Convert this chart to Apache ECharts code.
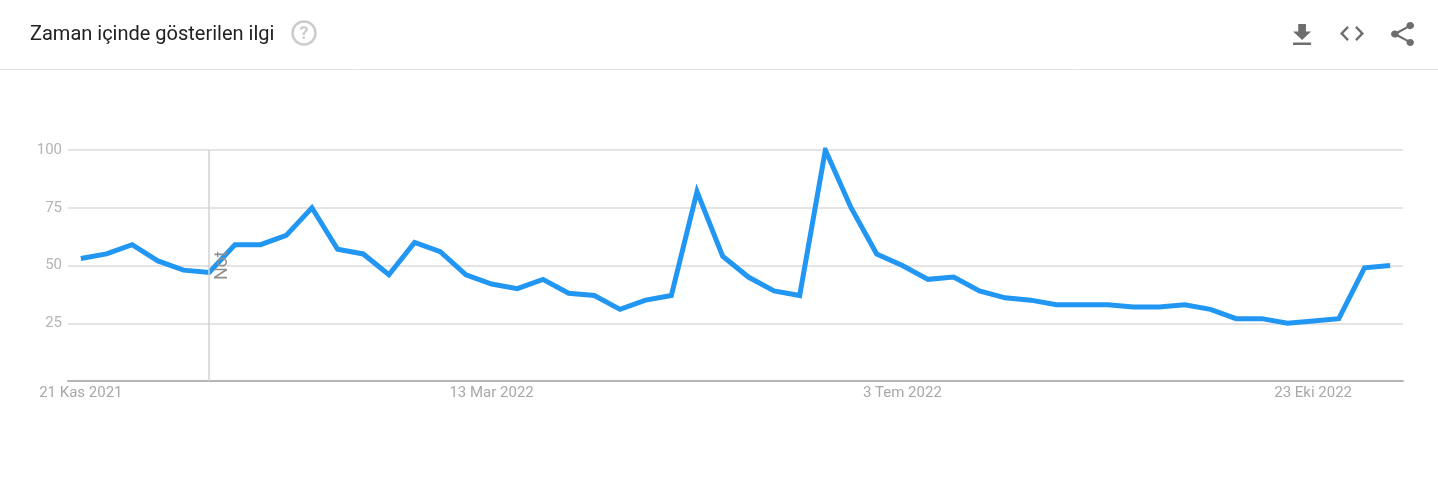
<html>
<head>
    <meta charset='utf-8'>
    <script src='https://cdn.jsdelivr.net/npm/echarts@6/dist/echarts.min.js'></script>
    <style>
        html, body, #main {
            width: 100%;
            height: 100%;
            margin: 0;
            background: #fff;
        }
    </style>
</head>
<body>

<div id='main'></div>
<script>
    var titleText = 'Zaman içinde gösterilen ilgi';
    var noteText = 'Not';
    var noteDate = '26 Ara 2021';
    var dates = [
        '21 Kas 2021', '28 Kas 2021', '5 Ara 2021', '12 Ara 2021', '19 Ara 2021', '26 Ara 2021',
        '2 Oca 2022', '9 Oca 2022', '16 Oca 2022', '23 Oca 2022', '30 Oca 2022', '6 Şub 2022',
        '13 Şub 2022', '20 Şub 2022', '27 Şub 2022', '6 Mar 2022', '13 Mar 2022', '20 Mar 2022',
        '27 Mar 2022', '3 Nis 2022', '10 Nis 2022', '17 Nis 2022', '24 Nis 2022', '1 May 2022',
        '8 May 2022', '15 May 2022', '22 May 2022', '29 May 2022', '5 Haz 2022', '12 Haz 2022',
        '19 Haz 2022', '26 Haz 2022', '3 Tem 2022', '10 Tem 2022', '17 Tem 2022', '24 Tem 2022',
        '31 Tem 2022', '7 Ağu 2022', '14 Ağu 2022', '21 Ağu 2022', '28 Ağu 2022', '4 Eyl 2022',
        '11 Eyl 2022', '18 Eyl 2022', '25 Eyl 2022', '2 Eki 2022', '9 Eki 2022', '16 Eki 2022',
        '23 Eki 2022', '30 Eki 2022', '6 Kas 2022', '13 Kas 2022'
    ];
    var interest = [
        53, 55, 59, 52, 48, 47, 59, 59, 63, 75, 57, 55, 46, 60, 56, 46, 42, 40, 44, 38,
        37, 31, 35, 37, 82, 54, 45, 39, 37, 100, 75, 55, 50, 44, 45, 39, 36, 35, 33, 33,
        33, 32, 32, 33, 31, 27, 27, 25, 26, 27, 49, 50
    ];

    // material icons, drawn in a 24x24 box
    var iconDownload = 'M19 9h-4V3H9v6H5l7 7 7-7zM5 18v2h14v-2H5z';
    var iconEmbed = 'M9.4 16.6L4.8 12l4.6-4.6L8 6l-6 6 6 6 1.4-1.4zm5.2 0l4.6-4.6-4.6-4.6L16 6l6 6-6 6-1.4-1.4z';
    var iconShare = 'M18 16.08c-.76 0-1.44.3-1.96.77L8.91 12.7c.05-.23.09-.46.09-.7s-.04-.47-.09-.7l7.05-4.11c.54.5 1.25.81 2.04.81 1.66 0 3-1.34 3-3s-1.34-3-3-3-3 1.34-3 3c0 .24.04.47.09.7L8.04 9.81C7.5 9.31 6.79 9 6 9c-1.66 0-3 1.34-3 3s1.34 3 3 3c.79 0 1.5-.31 2.04-.81l7.12 4.16c-.05.21-.08.43-.08.65 0 1.61 1.31 2.92 2.92 2.92 1.61 0 2.92-1.31 2.92-2.92s-1.31-2.92-2.92-2.92z';

    echarts.graphic.registerShape('iconDownload', echarts.graphic.extendPath(iconDownload, {}));
    echarts.graphic.registerShape('iconEmbed', echarts.graphic.extendPath(iconEmbed, {}));
    echarts.graphic.registerShape('iconShare', echarts.graphic.extendPath(iconShare, {}));

    function icon(name, x, y, sx, sy) {
        return {
            type: name,
            x: x,
            y: y,
            scaleX: sx,
            scaleY: sy,
            style: { fill: '#6e6e6e' }
        };
    }

    var myChart = echarts.init(document.getElementById('main'));
    myChart.setOption({
        animation: false,
        backgroundColor: '#fff',
        textStyle: { fontFamily: 'Roboto' },
        title: {
            text: titleText,
            left: 30,
            top: 24,
            padding: 0,
            textStyle: { fontSize: 20, fontWeight: 400, color: '#212121', fontFamily: 'Roboto', lineHeight: 22 }
        },
        grid: { left: 68, right: 35, top: 150, bottom: 106, containLabel: false },
        xAxis: {
            type: 'category',
            data: dates,
            axisLine: { lineStyle: { color: '#b4b4b4', width: 2 } },
            axisTick: { show: false },
            axisLabel: {
                interval: 15,
                margin: 5,
                color: '#a8a8a8',
                fontSize: 15,
                fontFamily: 'Roboto'
            }
        },
        yAxis: {
            type: 'value',
            min: 0,
            max: 100,
            interval: 25,
            axisLine: { show: false },
            axisTick: { show: false },
            splitLine: { lineStyle: { color: '#e4e4e4', width: 2 } },
            axisLabel: {
                margin: 6,
                color: '#b4b4b4',
                fontSize: 15,
                fontFamily: 'Roboto',
                formatter: function (v) { return v === 0 ? '' : v; }
            }
        },
        series: [
            {
                type: 'line',
                data: interest,
                showSymbol: false,
                symbol: 'none',
                lineStyle: { color: '#2196f3', width: 5, join: 'miter' },
                markLine: {
                    silent: true,
                    symbol: 'none',
                    animation: false,
                    lineStyle: { color: '#d2d2d2', width: 1.5, type: 'solid' },
                    label: {
                        formatter: noteText,
                        position: 'insideMiddleBottom',
                        distance: 4,
                        color: '#8f8f8f',
                        fontSize: 18,
                        fontFamily: 'Roboto'
                    },
                    data: [{ xAxis: noteDate }]
                }
            }
        ],
        graphic: [
            {
                type: 'line',
                shape: { x1: 0, y1: 69.5, x2: 1438, y2: 69.5 },
                style: { stroke: '#e0e0e0', lineWidth: 1 }
            },
            {
                type: 'circle',
                shape: { cx: 304, cy: 33, r: 11.5 },
                style: { fill: 'none', stroke: '#cccccc', lineWidth: 2.5 }
            },
            {
                type: 'text',
                x: 304,
                y: 34,
                style: {
                    text: '?',
                    align: 'center',
                    verticalAlign: 'middle',
                    fill: '#cccccc',
                    font: 'bold 18px Roboto'
                }
            },
            icon('iconDownload', 1286.6, 20.3, 1.29, 1.235),
            icon('iconEmbed', 1337.6, 18.5, 1.2, 1.25),
            icon('iconShare', 1387.2, 19.6, 1.28, 1.2)
        ]
    });
</script>
</body>
</html>
